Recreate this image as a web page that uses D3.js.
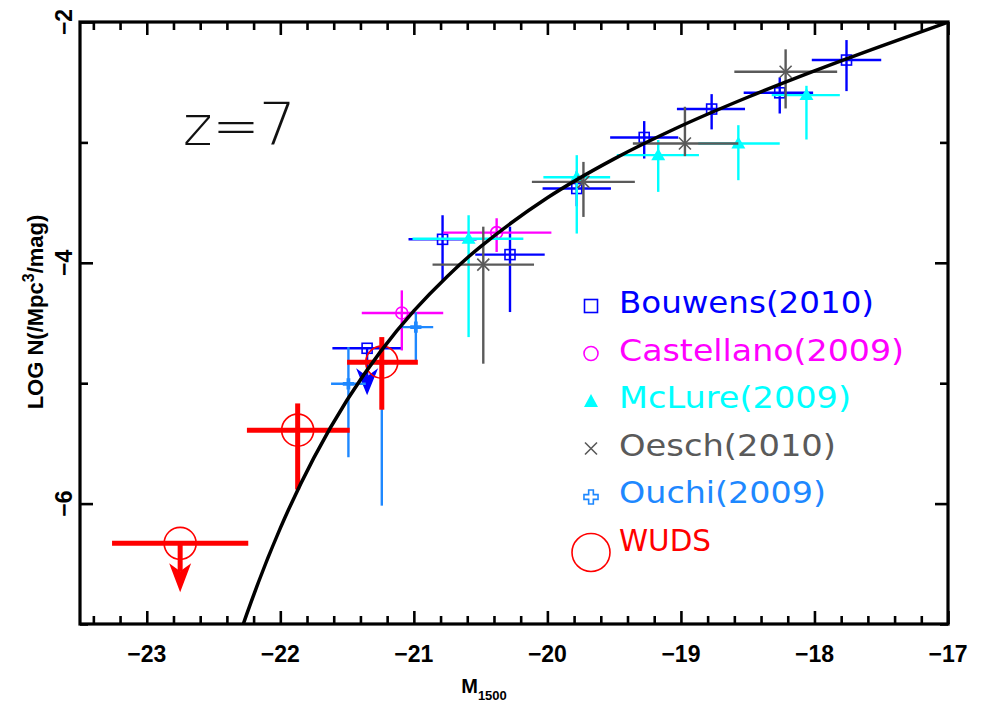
<!DOCTYPE html>
<html><head><meta charset="utf-8">
<script src="https://cdn.jsdelivr.net/npm/d3@7"></script>
<style>body{margin:0;background:#fff}svg{display:block}</style>
</head><body><svg id="c" width="981" height="709"></svg>
<script>
// ---- data (M1500, logN, Mmin, Mmax, logNmin, logNmax) ----
const bouwens = [
  [-20.785,-3.805,-21.04,-20.53,-4.16,-3.605],
  [-20.28,-3.932,-20.54,-20.02,-4.409,-3.70],
  [-19.78,-3.383,-20.036,-19.524,-3.53,-3.24],
  [-19.275,-2.959,-19.53,-19.02,-3.134,-2.823],
  [-18.77,-2.723,-19.03,-18.52,-2.892,-2.599],
  [-18.26,-2.588,-18.53,-18.01,-2.76,-2.46],
  [-17.76,-2.316,-18.02,-17.50,-2.574,-2.15]
];
// upper limits: M, logN, Mmin, Mmax, arrow tip logN
const bouwensLimits = [[-21.35,-4.71,-21.61,-21.09,-5.10]];
const castellano = [
  [-21.09,-4.417,-21.39,-20.78,-4.728,-4.229],
  [-20.38,-3.749,-20.78,-19.97,-3.91,-3.63]
];
const mclure = [
  [-20.59,-3.80,-21.01,-20.18,-4.617,-3.605],
  [-19.78,-3.29,-20.03,-19.53,-3.757,-3.106],
  [-19.17,-3.106,-19.48,-18.865,-3.411,-2.98],
  [-18.57,-3.009,-18.87,-18.26,-3.314,-2.857],
  [-18.06,-2.607,-18.32,-17.81,-2.976,-2.53]
];
const oesch = [
  [-20.48,-4.015,-20.86,-20.10,-4.838,-3.70],
  [-19.73,-3.328,-20.116,-19.345,-3.619,-3.162],
  [-18.97,-3.009,-19.36,-18.57,-3.114,-2.704],
  [-18.216,-2.413,-18.60,-17.83,-2.718,-2.227]
];
const ouchi = [
  [-21.24,-4.83,-21.30,-21.18,-6.017,-4.65],
  [-21.49,-5.005,-21.62,-21.36,-5.615,-4.70],
  [-20.985,-4.534,-21.09,-20.855,-4.825,-4.41]
];
const wuds = [
  [-21.87,-5.39,-22.25,-21.48,-5.883,-5.168],
  [-21.24,-4.825,-21.50,-20.97,-5.22,-4.617]
];
const wudsLimits = [[-22.75,-6.33,-23.26,-22.24,-6.737]];
// luminosity function curve
const curveM    = [-22.5,-22.25,-22,-21.75,-21.5,-21.25,-21,-20.75,-20.5,-20,-19.5,-19,-18.5,-18,-17.5,-17];
const curveLogN = [-7.785,-6.914,-6.204,-5.622,-5.140,-4.738,-4.400,-4.113,-3.865,-3.460,-3.137,-2.864,-2.625,-2.406,-2.200,-2.002];
const xMajorTicks = [-23,-22,-21,-20,-19,-18,-17];
const yMajorTicks = [-6,-4,-2];
const yMinorTicks = [-7,-5,-3];
const legendNames = ["Bouwens(2010)","Castellano(2009)","McLure(2009)","Oesch(2010)","Ouchi(2009)","WUDS"];

// ---- styles ----
const COL = {bouwens:"#0000ff", castellano:"#ff00ff", mclure:"#00ffff", oesch:"#5a5a5a", ouchi:"#1e88ff", wuds:"#ff0000"};
const legendColors = [COL.bouwens, COL.castellano, COL.mclure, COL.oesch, COL.ouchi, COL.wuds];
const legendWidths = [255, 285, 232, 217, 207, 92];

const svg = d3.select("#c");
svg.append("rect").attr("width",981).attr("height",709).attr("fill","#fff");
const L=80,R=948,T=22,B=624;
const x = d3.scaleLinear().domain([-23.5,-17]).range([L,R]);
const y = d3.scaleLinear().domain([-7,-2]).range([B,T]);

svg.append("clipPath").attr("id","clip").append("rect").attr("x",L).attr("y",T).attr("width",R-L).attr("height",B-T);
const plot = svg.append("g").attr("clip-path","url(#clip)");

function errBars(data, color, w){
  const g = plot.append("g").attr("stroke",color).attr("stroke-width",w).attr("fill","none");
  data.forEach(d=>{
    g.append("line").attr("x1",x(d[2])).attr("x2",x(d[3])).attr("y1",y(d[1])).attr("y2",y(d[1]));
    if (d.length>5) g.append("line").attr("x1",x(d[0])).attr("x2",x(d[0])).attr("y1",y(d[4])).attr("y2",y(d[5]));
  });
  return g;
}
function arrow(g, cx, cyStart, tipY, color, lw, hw, hh, notch){
  g.append("line").attr("x1",cx).attr("x2",cx).attr("y1",cyStart).attr("y2",tipY-hh+notch)
    .attr("stroke",color).attr("stroke-width",lw);
  g.append("path").attr("d",`M${cx},${tipY}L${cx-hw/2},${tipY-hh}L${cx},${tipY-hh+notch}L${cx+hw/2},${tipY-hh}Z`)
    .attr("fill",color).attr("stroke","none");
}

// Bouwens
errBars(bouwens, COL.bouwens, 2.4);
{
  const g = plot.append("g");
  bouwensLimits.forEach(d=>{
    g.append("line").attr("x1",x(d[2])).attr("x2",x(d[3])).attr("y1",y(d[1])).attr("y2",y(d[1])).attr("stroke",COL.bouwens).attr("stroke-width",2.4);
    arrow(g, x(d[0]), y(d[1]), y(d[4]), COL.bouwens, 2.4, 22, 27, 8);
  });
  bouwens.concat(bouwensLimits).forEach(d=>{
    plot.append("rect").attr("x",x(d[0])-5).attr("y",y(d[1])-5).attr("width",10).attr("height",10)
      .attr("fill","none").attr("stroke",COL.bouwens).attr("stroke-width",1.6);
  });
}
// Castellano
errBars(castellano, COL.castellano, 2.4);
castellano.forEach(d=>plot.append("circle").attr("cx",x(d[0])).attr("cy",y(d[1])).attr("r",6)
  .attr("fill","none").attr("stroke",COL.castellano).attr("stroke-width",1.6));
// McLure
errBars(mclure, COL.mclure, 2.4);
mclure.forEach(d=>plot.append("path").attr("transform",`translate(${x(d[0])},${y(d[1])})`)
  .attr("d","M0,-7L7,5L-7,5Z").attr("fill",COL.mclure));
// Oesch
errBars(oesch, COL.oesch, 2.4);
oesch.forEach(d=>plot.append("path").attr("transform",`translate(${x(d[0])},${y(d[1])})`)
  .attr("d","M-6,-6L6,6M-6,6L6,-6").attr("stroke",COL.oesch).attr("stroke-width",1.6));
// Ouchi
errBars(ouchi, COL.ouchi, 2.4);
ouchi.forEach(d=>plot.append("path").attr("transform",`translate(${x(d[0])},${y(d[1])})`)
  .attr("d",d3.symbol(d3.symbolCross,70)()).attr("fill",COL.ouchi));
// WUDS
errBars(wuds, COL.wuds, 5);
{
  const g = plot.append("g");
  wudsLimits.forEach(d=>{
    g.append("line").attr("x1",x(d[2])).attr("x2",x(d[3])).attr("y1",y(d[1])).attr("y2",y(d[1])).attr("stroke",COL.wuds).attr("stroke-width",5);
    arrow(g, x(d[0]), y(d[1]), y(d[4]), COL.wuds, 5, 22, 29, 8);
  });
  wuds.concat(wudsLimits).forEach(d=>plot.append("circle").attr("cx",x(d[0])).attr("cy",y(d[1])).attr("r",16)
    .attr("fill","none").attr("stroke",COL.wuds).attr("stroke-width",1.6));
}
// curve
const line = d3.line().x(i=>x(curveM[i])).y(i=>y(curveLogN[i])).curve(d3.curveCatmullRom);
plot.append("path").attr("d",line(d3.range(curveM.length))).attr("fill","none").attr("stroke","#000").attr("stroke-width",3.5);

// ---- axes ----
const xMinor = d3.range(-23.4,-17.01,0.2).map(v=>+v.toFixed(1)).filter(v=>!xMajorTicks.includes(v));
function ax(axis, tr, vals, size){
  const g = svg.append("g").attr("transform",tr).call(axis.tickValues(vals).tickSize(size).tickFormat(""));
  g.select(".domain").remove();
  g.selectAll("line").attr("stroke","#000").attr("stroke-width",2.6);
}
ax(d3.axisBottom(x),`translate(0,${B})`,xMajorTicks,-13);
ax(d3.axisBottom(x),`translate(0,${B})`,xMinor,-8);
ax(d3.axisTop(x),`translate(0,${T})`,xMajorTicks,-13);
ax(d3.axisTop(x),`translate(0,${T})`,xMinor,-8);
ax(d3.axisLeft(y),`translate(${L},0)`,yMajorTicks,-13);
ax(d3.axisLeft(y),`translate(${L},0)`,yMinorTicks,-8);
ax(d3.axisRight(y),`translate(${R},0)`,yMajorTicks,-13);
ax(d3.axisRight(y),`translate(${R},0)`,yMinorTicks,-8);
svg.append("rect").attr("x",L).attr("y",T).attr("width",R-L).attr("height",B-T)
  .attr("fill","none").attr("stroke","#000").attr("stroke-width",3.2);

const fmt = d3.format("d");
const FF = "Liberation Sans, Arial, sans-serif";
xMajorTicks.forEach(v=>svg.append("text").attr("x",x(v)).attr("y",662).attr("text-anchor","middle")
  .attr("font-family",FF).attr("font-weight","bold").attr("font-size",23).text(fmt(v)));
yMajorTicks.forEach(v=>svg.append("text").attr("transform",`translate(72,${y(v)}) rotate(-90)`).attr("text-anchor","middle")
  .attr("font-family",FF).attr("font-weight","bold").attr("font-size",23).text(fmt(v)));

// y label
const yl = svg.append("text").attr("transform","translate(43,312) rotate(-90)").attr("text-anchor","middle")
  .attr("font-family",FF).attr("font-weight","bold").attr("font-size",22);
yl.append("tspan").text("LOG N(/Mpc");
yl.append("tspan").attr("dy",-9).attr("font-size",16).text("3");
yl.append("tspan").attr("dy",9).text("/mag)");
// x label
const xl = svg.append("text").attr("x",484).attr("y",693).attr("text-anchor","middle")
  .attr("font-family",FF).attr("font-weight","bold").attr("font-size",20);
xl.append("tspan").text("M");
xl.append("tspan").attr("dy",7).attr("font-size",13).text("1500");

// z = 7
const zf = "DejaVu Sans, sans-serif";
svg.append("text").attr("x",183).attr("y",145).attr("font-family",zf).attr("font-weight",200).attr("font-size",56).attr("fill","#111").text("z");
svg.append("text").attr("x",236).attr("y",145).attr("text-anchor","middle").attr("font-family",zf).attr("font-weight",200).attr("font-size",56).attr("fill","#111").text("=");
svg.append("text").attr("x",259).attr("y",145).attr("font-family",zf).attr("font-weight",200).attr("font-size",58).attr("fill","#111").text("7");

// ---- legend ----
const lg = svg.append("g");
const ly0 = 313, ldy = 47.5, lmx = 591, ltx = 619;
legendNames.forEach((n,i)=>{
  const yy = ly0 + i*ldy;
  lg.append("text").attr("x",ltx).attr("y",yy).attr("font-family","DejaVu Sans, sans-serif").attr("font-size",30)
    .attr("fill",legendColors[i]).attr("textLength",legendWidths[i]).attr("lengthAdjust","spacingAndGlyphs").text(n);
});
const my = i => ly0 + i*ldy - 7;
lg.append("rect").attr("x",lmx-6.5).attr("y",my(0)-6.5).attr("width",13).attr("height",13).attr("fill","none").attr("stroke",COL.bouwens).attr("stroke-width",1.6);
lg.append("circle").attr("cx",lmx).attr("cy",my(1)).attr("r",7).attr("fill","none").attr("stroke",COL.castellano).attr("stroke-width",1.6);
lg.append("path").attr("transform",`translate(${lmx},${my(2)})`).attr("d","M0,-7L7,6L-7,6Z").attr("fill",COL.mclure);
lg.append("path").attr("transform",`translate(${lmx},${my(3)})`).attr("d","M-6,-6L6,6M-6,6L6,-6").attr("stroke",COL.oesch).attr("stroke-width",1.6);
lg.append("path").attr("transform",`translate(${lmx},${my(4)+1})`).attr("d",d3.symbol(d3.symbolCross,110)()).attr("fill","none").attr("stroke",COL.ouchi).attr("stroke-width",1.6);
lg.append("circle").attr("cx",lmx).attr("cy",my(5)+9).attr("r",19).attr("fill","none").attr("stroke",COL.wuds).attr("stroke-width",1.6);
</script></body></html>
